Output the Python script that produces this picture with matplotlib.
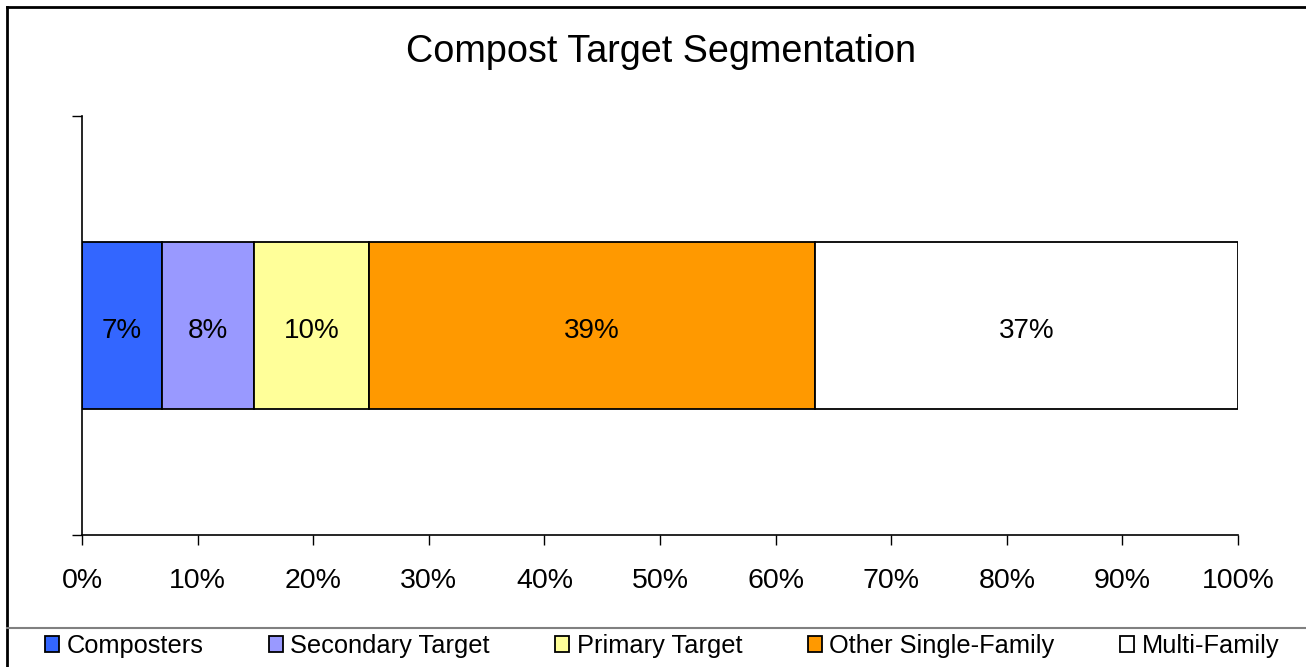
import matplotlib.pyplot as plt
from matplotlib.lines import Line2D
from matplotlib.ticker import FuncFormatter

plt.rcParams['font.family'] = ['Liberation Sans', 'DejaVu Sans']

# segment shares (percent of households)
segments = ['Composters', 'Secondary Target', 'Primary Target',
            'Other Single-Family', 'Multi-Family']
shares = [6.9, 8.0, 9.9, 38.6, 36.6]
labels = ['7%', '8%', '10%', '39%', '37%']
colors = ['#3366FF', '#9999FF', '#FFFF99', '#FF9900', '#FFFFFF']

fig = plt.figure(figsize=(13.06, 6.67), dpi=100)
ax = fig.add_axes([82 / 1306, 1 - 535 / 667, (1238 - 82) / 1306, (535 - 116) / 667])

left = 0
for seg, val, lab, col in zip(segments, shares, labels, colors):
    ax.barh(0, val, height=0.4, left=left, color=col, edgecolor='black',
            linewidth=1.3, label=seg)
    ax.text(left + val / 2, -0.012, lab, ha='center', va='center', fontsize=20)
    left += val

ax.set_xlim(0, 100)
ax.set_ylim(-0.5, 0.5)
ax.set_xticks(range(0, 101, 10))
ax.xaxis.set_major_formatter(FuncFormatter(lambda v, p: f'{int(v)}%'))
ax.set_yticks([-0.5, 0.5])
ax.set_yticklabels([])
ax.tick_params(axis='x', direction='out', length=7, width=1, labelsize=20.5, pad=17)
ax.tick_params(axis='y', direction='out', length=7, width=1)
for s in ['top', 'right']:
    ax.spines[s].set_visible(False)
for s in ['left', 'bottom']:
    ax.spines[s].set_linewidth(1.2)

fig.text(0.506, 1 - 52 / 667, 'Compost Target Segmentation', ha='center',
         va='center', fontsize=27.2)

# chart frame lines (cropped chart area)
fig.add_artist(Line2D([7 / 1306, 7 / 1306], [0, 1 - 7 / 667], color='black', lw=2))
fig.add_artist(Line2D([7 / 1306, 1], [1 - 7 / 667, 1 - 7 / 667], color='black', lw=2))
fig.add_artist(Line2D([7 / 1306, 1], [1 - 628 / 667, 1 - 628 / 667], color='#808080', lw=1.5))

fig.legend(loc='center', bbox_to_anchor=(0.507, 1 - 646 / 667), ncol=5,
           frameon=False, fontsize=18.3, handlelength=0.55, handleheight=0.55,
           handletextpad=0.3, columnspacing=2.57, borderpad=0, borderaxespad=0)

fig.savefig('out.png', dpi=100)
